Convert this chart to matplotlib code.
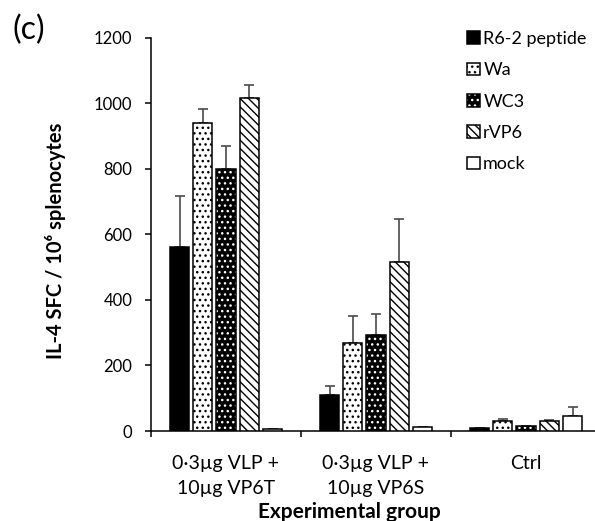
import numpy as np
import matplotlib
matplotlib.use('Agg')
from matplotlib import pyplot as plt
from matplotlib.patches import Patch

plt.rcParams['font.family'] = ['Lato', 'DejaVu Sans']
plt.rcParams['hatch.linewidth'] = 1.0

groups = ['0\u00b73\u00b5g VLP +\n10\u00b5g VP6T', '0\u00b73\u00b5g VLP +\n10\u00b5g VP6S', 'Ctrl']
series = ['R6-2 peptide', 'Wa', 'WC3', 'rVP6', 'mock']

r62 = [561, 110, 8]
wa = [939, 268, 32]
wc3 = [800, 292, 15]
rvp6 = [1015, 514, 29]
mock = [6, 12, 46]

r62_err = [155, 27, 0]
wa_err = [42, 83, 4]
wc3_err = [70, 64, 0]
rvp6_err = [39, 131, 6]
mock_err = [0, 0, 28]

values = [r62, wa, wc3, rvp6, mock]
errors = [r62_err, wa_err, wc3_err, rvp6_err, mock_err]

W, H = 595, 521
fig = plt.figure(figsize=(W / 100, H / 100), dpi=100)
ax = fig.add_axes([151 / W, 90 / H, 450 / W, 393.5 / H])

x = np.arange(len(groups))
pitch = 0.155
width = 0.129
lw = 1.1

styles = [
    dict(facecolor='black', edgecolor='black', hatch=None),
    dict(facecolor='white', edgecolor='black', hatch='...'),
    None,
    dict(facecolor='white', edgecolor='black', hatch='\\\\\\\\'),
    dict(facecolor='white', edgecolor='black', hatch=None),
]

handles = []
for i, (vals, errs) in enumerate(zip(values, errors)):
    pos = x + (i - 2) * pitch
    if i == 2:
        # black bar with white dots, black outline on top
        ax.bar(pos, vals, width, facecolor='black', edgecolor='white', hatch='...', linewidth=0, zorder=2)
        ax.bar(pos, vals, width, fill=False, edgecolor='black', linewidth=lw, zorder=3)
        h = (Patch(facecolor='black', edgecolor='white', hatch='...', linewidth=0),
             Patch(fill=False, edgecolor='black', linewidth=lw))
    else:
        st = styles[i]
        ax.bar(pos, vals, width, linewidth=lw, zorder=3, **st)
        h = Patch(linewidth=lw, **st)
    handles.append(h)
    ax.errorbar(pos, vals, yerr=[np.zeros(len(errs)), errs], fmt='none', ecolor='#4a4a4a',
                elinewidth=1.2, capsize=3.3, capthick=1.2, zorder=1)

ax.set_xlim(-0.5, 2.5)
ax.set_ylim(0, 1200)
ax.set_yticks(range(0, 1201, 200))
ax.set_xticks(x)
ax.set_xticklabels(groups, fontsize=14, linespacing=1.6)
ax.set_xticks([-0.5, 0.5, 1.5, 2.5], minor=True)
ax.tick_params(axis='x', which='major', length=0, pad=17)
ax.tick_params(axis='x', which='minor', length=4, width=1.1, direction='out')
ax.tick_params(axis='y', length=4.5, width=1.1, direction='out', pad=9, labelsize=12)

for s in ['top', 'right']:
    ax.spines[s].set_visible(False)
for s in ['left', 'bottom']:
    ax.spines[s].set_linewidth(1.1)

fig.text(56 / W, 1 - 241 / H, 'IL-4 SFC / 10\u2076 splenocytes', rotation=90,
         ha='center', va='center', fontsize=14.5, fontweight='bold')
fig.text(349 / W, 1 - 512 / H, 'Experimental group', ha='center', va='center',
         fontsize=15, fontweight='bold')
fig.text(12 / W, 1 - 30 / H, '(c)', ha='left', va='center', fontsize=23)

ax.legend(handles, series, loc='upper left', bbox_to_anchor=(467 / W, 1 - 31 / H),
          bbox_transform=fig.transFigure, frameon=False, fontsize=13,
          handlelength=0.7, handleheight=0.7, handletextpad=0.2,
          labelspacing=0.85, borderpad=0, borderaxespad=0)

fig.savefig('out.png', dpi=100)
